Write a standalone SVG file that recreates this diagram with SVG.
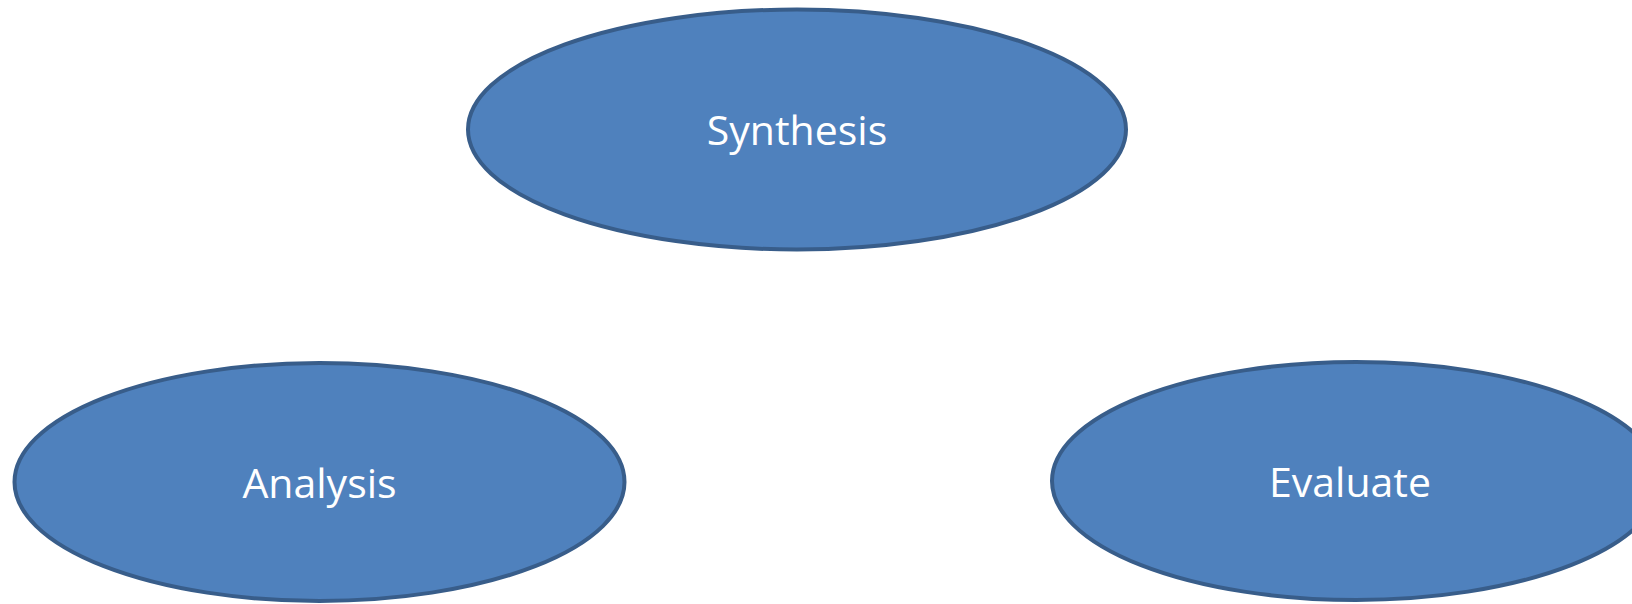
<svg xmlns="http://www.w3.org/2000/svg" width="1632" height="604" viewBox="0 0 1632 604">
<style>
.n{fill:#4f81bd;stroke:#385d8a;stroke-width:4}
.t{fill:#ffffff;font-family:"Open Sans","Liberation Sans",sans-serif;font-size:41px;text-anchor:middle}
</style>
<rect width="1632" height="604" fill="#ffffff"/>
<g id="connectors"></g>
<g id="synthesis">
<ellipse class="n" cx="797" cy="129.5" rx="329" ry="120"/>
<text class="t" x="797" y="145">Synthesis</text>
</g>
<g id="analysis">
<ellipse class="n" cx="319.5" cy="482" rx="305" ry="119"/>
<text class="t" x="319.5" y="498">Analysis</text>
</g>
<g id="evaluate">
<ellipse class="n" cx="1356" cy="481" rx="304" ry="119"/>
<text class="t" x="1350" y="497">Evaluate</text>
</g>
</svg>
